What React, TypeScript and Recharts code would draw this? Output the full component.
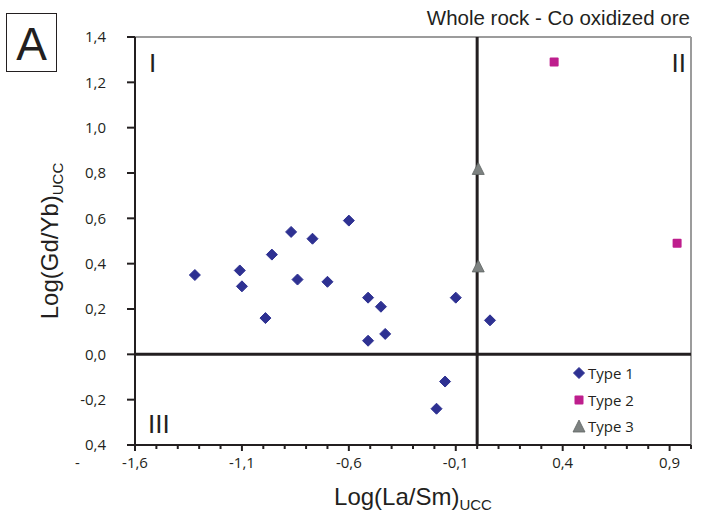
import React from "react";
import { Legend, ReferenceLine, Scatter, ScatterChart, XAxis, YAxis } from "recharts";

// Type 1 (diamonds)
const type1X = [-1.32, -1.11, -1.1, -0.96, -0.99, -0.87, -0.84, -0.77, -0.7, -0.6, -0.51, -0.51, -0.45, -0.43, -0.1, 0.06, -0.15, -0.19];
const type1Y = [0.35, 0.37, 0.3, 0.44, 0.16, 0.54, 0.33, 0.51, 0.32, 0.59, 0.25, 0.06, 0.21, 0.09, 0.25, 0.15, -0.12, -0.24];
// Type 2 (squares)
const type2X = [0.36, 0.935];
const type2Y = [1.29, 0.49];
// Type 3 (triangles)
const type3X = [0.005, 0.005];
const type3Y = [0.82, 0.39];

const xMajorTicks = [-1.6, -1.1, -0.6, -0.1, 0.4, 0.9];
const xAllTicks = [
  -1.6, -1.5, -1.4, -1.3, -1.2, -1.1, -1.0, -0.9, -0.8, -0.7, -0.6, -0.5, -0.4, -0.3,
  -0.2, -0.1, 0, 0.1, 0.2, 0.3, 0.4, 0.5, 0.6, 0.7, 0.8, 0.9, 1.0,
];
const yTicks = [-0.4, -0.2, 0, 0.2, 0.4, 0.6, 0.8, 1.0, 1.2, 1.4];

const NAVY = "#2E3192";
const MAGENTA = "#BE1E8D";
const GREY = "#7D8281";
const INK = "#231F20";
const TICK_FONT = "'Open Sans', sans-serif";
const TITLE_FONT = "'Liberation Sans', Arial, sans-serif";

const toPoints = (xs: number[], ys: number[]) => xs.map((x, i) => ({ x, y: ys[i] }));
const fmt = (v: number) => v.toFixed(1).replace(".", ",");

const X_TICK_SIZE = 6;
const X_TICK_MARGIN = 6;

function DiamondMark({ cx, cy }: any) {
  const r = 5.5;
  return (
    <polygon
      points={`${cx},${cy - r} ${cx + r},${cy} ${cx},${cy + r} ${cx - r},${cy}`}
      fill={NAVY}
      stroke={NAVY}
      strokeWidth={1}
      strokeLinejoin="round"
    />
  );
}

function SquareMark({ cx, cy }: any) {
  const s = 9;
  return <rect x={cx - s / 2} y={cy - s / 2} width={s} height={s} rx={1} fill={MAGENTA} />;
}

function TriangleMark({ cx, cy }: any) {
  const h = 12;
  return (
    <polygon
      points={`${cx},${cy - h / 2} ${cx + 6},${cy + h / 2} ${cx - 6},${cy + h / 2}`}
      fill={GREY}
      stroke="#5f6463"
      strokeWidth={0.8}
    />
  );
}

function XTick({ x, y, payload }: any) {
  const v = payload.value as number;
  const major = xMajorTicks.some((t) => Math.abs(t - v) < 1e-6);
  const axisY = y - X_TICK_SIZE - X_TICK_MARGIN;
  return (
    <g>
      <line x1={x} x2={x} y1={axisY} y2={axisY + (major ? 6 : 4)} stroke={INK} strokeWidth={2} />
      {major && (
        <text x={x} y={y} dy="0.71em" textAnchor="middle" fontFamily={TICK_FONT} fontSize={15} fill={INK}>
          {fmt(v)}
        </text>
      )}
    </g>
  );
}

function YTick({ x, y, payload }: any) {
  const v = payload.value as number;
  // the bottom label in the source figure lost its minus sign onto a second line
  if (Math.abs(v + 0.4) < 1e-6) {
    return (
      <g fontFamily={TICK_FONT} fontSize={15} fill={INK}>
        <text x={x} y={y} dy="0.35em" textAnchor="end">0,4</text>
        <text x={x - 31} y={y + 18} dy="0.35em" textAnchor="start">-</text>
      </g>
    );
  }
  return (
    <text x={x} y={y} dy="0.35em" textAnchor="end" fontFamily={TICK_FONT} fontSize={15} fill={INK}>
      {fmt(v)}
    </text>
  );
}

function XTitle({ viewBox }: any) {
  const { x, y, width } = viewBox;
  return (
    <text x={x + width / 2} y={y + 60} textAnchor="middle" fontFamily={TITLE_FONT} fontSize={24} fill={INK}>
      <tspan>Log(La/Sm)</tspan>
      <tspan fontSize={15} dy={5}>UCC</tspan>
    </text>
  );
}

function YTitle({ viewBox }: any) {
  const { y, height } = viewBox;
  const cx = 58;
  const cy = y + height / 2;
  return (
    <text
      x={cx}
      y={cy}
      transform={`rotate(-90, ${cx}, ${cy})`}
      textAnchor="middle"
      fontFamily={TITLE_FONT}
      fontSize={24}
      fill={INK}
    >
      <tspan>Log(Gd/Yb)</tspan>
      <tspan fontSize={15} dy={5}>UCC</tspan>
    </text>
  );
}

const markerFor: Record<string, (p: any) => React.ReactElement> = {
  "Type 1": DiamondMark,
  "Type 2": SquareMark,
  "Type 3": TriangleMark,
};

function LegendBox({ payload }: any) {
  return (
    <div style={{ fontFamily: TICK_FONT, fontSize: 15, color: INK }}>
      {(payload || []).map((entry: any) => {
        const Mark = markerFor[entry.value];
        return (
          <div key={entry.value} style={{ display: "flex", alignItems: "center", height: 26.5 }}>
            <svg width={14} height={14} style={{ marginRight: 2 }}>
              {Mark ? <Mark cx={7} cy={7} /> : null}
            </svg>
            <span>{entry.value}</span>
          </div>
        );
      })}
    </div>
  );
}

export default function App() {
  return (
    <div style={{ position: "absolute", left: 0, top: 0, width: 701, height: 529, background: "#fff" }}>
      <ScatterChart width={701} height={529} margin={{ top: 37, right: 10, bottom: 0, left: 0 }}>
        <XAxis
          dataKey="x"
          type="number"
          domain={[-1.6, 1.0]}
          ticks={xAllTicks}
          interval={0}
          height={84}
          tickSize={X_TICK_SIZE}
          tickMargin={X_TICK_MARGIN}
          tickLine={false}
          tick={<XTick />}
          axisLine={{ stroke: INK, strokeWidth: 2 }}
          allowDataOverflow
          label={{ content: <XTitle /> }}
        />
        <YAxis
          dataKey="y"
          type="number"
          domain={[-0.4, 1.4]}
          ticks={yTicks}
          interval={0}
          width={135}
          tickSize={8}
          tickMargin={21}
          tickLine={{ stroke: INK, strokeWidth: 2 }}
          tick={<YTick />}
          axisLine={{ stroke: INK, strokeWidth: 2 }}
          allowDataOverflow
          label={{ content: <YTitle /> }}
        />
        <ReferenceLine y={1.4} stroke="#9C9C9C" strokeWidth={2} />
        <ReferenceLine x={1.0} stroke="#9C9C9C" strokeWidth={2} />
        <ReferenceLine y={0} stroke={INK} strokeWidth={3} />
        <ReferenceLine x={0} stroke={INK} strokeWidth={3} />
        <Scatter name="Type 1" data={toPoints(type1X, type1Y)} fill={NAVY} shape={<DiamondMark />} isAnimationActive={false} />
        <Scatter name="Type 2" data={toPoints(type2X, type2Y)} fill={MAGENTA} shape={<SquareMark />} isAnimationActive={false} />
        <Scatter name="Type 3" data={toPoints(type3X, type3Y)} fill={GREY} shape={<TriangleMark />} isAnimationActive={false} />
        <Legend
          layout="vertical"
          align="center"
          verticalAlign="middle"
          content={<LegendBox />}
          wrapperStyle={{ left: 572, top: 360, width: 100 }}
        />
      </ScatterChart>
      <svg
        width={701}
        height={529}
        style={{ position: "absolute", left: 0, top: 0, pointerEvents: "none" }}
      >
        <rect x={6.5} y={13.5} width={50} height={58} fill="none" stroke={INK} strokeWidth={1} />
        <text x={31.5} y={60} textAnchor="middle" fontFamily={TITLE_FONT} fontSize={46} fill={INK}>A</text>
        <text x={690} y={25} textAnchor="end" fontFamily={TITLE_FONT} fontSize={20.5} fill={INK}>
          Whole rock - Co oxidized ore
        </text>
        <g fontFamily={TITLE_FONT} fontSize={26} fill={INK}>
          <text x={149} y={72}>I</text>
          <text x={686} y={72} textAnchor="end">II</text>
          <text x={148} y={433}>III</text>
        </g>
      </svg>
    </div>
  );
}
